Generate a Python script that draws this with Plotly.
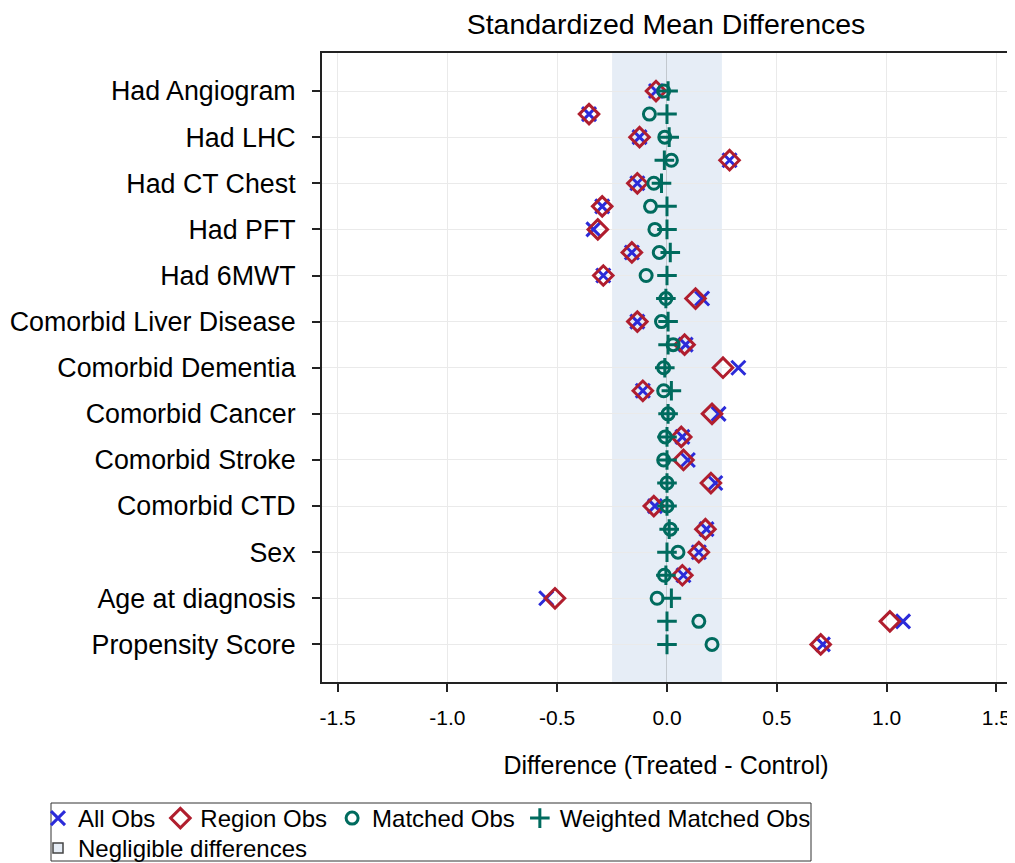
import plotly.graph_objects as go

# ---- data ----
row_labels = [
    "Had Angiogram", None, "Had LHC", None, "Had CT Chest", None, "Had PFT", None,
    "Had 6MWT", None, "Comorbid Liver Disease", None, "Comorbid Dementia", None,
    "Comorbid Cancer", None, "Comorbid Stroke", None, "Comorbid CTD", None,
    "Sex", None, "Age at diagnosis", None, "Propensity Score",
]
all_obs = [-0.05, -0.355, -0.125, 0.285, -0.135, -0.295, -0.335, -0.16, -0.29, 0.16,
           -0.135, 0.085, 0.325, -0.11, 0.235, 0.07, 0.095, 0.22, -0.055, 0.18,
           0.145, 0.075, -0.55, 1.075, 0.71]
region_obs = [-0.05, -0.355, -0.125, 0.285, -0.135, -0.295, -0.315, -0.16, -0.29, 0.13,
              -0.135, 0.08, 0.255, -0.11, 0.205, 0.065, 0.075, 0.2, -0.06, 0.175,
              0.145, 0.07, -0.51, 1.015, 0.70]
matched_obs = [-0.015, -0.08, -0.01, 0.02, -0.06, -0.075, -0.055, -0.035, -0.095, -0.005,
               -0.025, 0.028, -0.015, -0.015, 0.005, -0.008, -0.015, 0.0, 0.0, 0.015,
               0.05, -0.012, -0.045, 0.145, 0.205]
weighted_obs = [0.005, 0.0, 0.01, -0.012, -0.025, 0.0, 0.0, 0.015, 0.0, -0.005,
                0.005, 0.005, -0.01, 0.02, 0.005, 0.0, 0.0, 0.0, 0.0, 0.01,
                0.0, -0.005, 0.02, 0.0, 0.0]
threshold = 0.25
x_ticks = [-1.5, -1.0, -0.5, 0.0, 0.5, 1.0, 1.5]

rows = list(range(len(row_labels)))
tickvals = [i for i, l in enumerate(row_labels) if l]
ticktext = [l for l in row_labels if l]

BLUE = "#2B2BD9"
RED = "#B01E2E"
TEAL = "#006B5E"
BAND = "#E6EDF6"
FONT = "Liberation Sans, Arial, sans-serif"

# page body has an 8px margin, so figure coords = screen coords - 8
OFF = 8
W, H = 1007, 855
ML, MR, MT, MB = 314, 5, 45, 181
PW, PH = W - ML - MR, H - MT - MB


def px_x(p):
    return (p - OFF - ML) / PW


def px_y(p):
    return (H - MB - (p - OFF)) / PH


fig = go.Figure()
fig.add_shape(type="rect", xref="x", yref="paper", x0=-threshold, x1=threshold,
              y0=0, y1=1, fillcolor=BAND, line_width=0, layer="below")
# legend frame
fig.add_shape(type="rect", xref="paper", yref="paper",
              x0=px_x(51), x1=px_x(811), y0=px_y(861), y1=px_y(803),
              line=dict(color="#333333", width=1), fillcolor="rgba(0,0,0,0)")

fig.add_trace(go.Scatter(x=all_obs, y=rows, mode="markers", name="All Obs",
                         marker=dict(symbol="x-thin", size=14,
                                     line=dict(color=BLUE, width=3), color=BLUE)))
fig.add_trace(go.Scatter(x=region_obs, y=rows, mode="markers", name="Region Obs",
                         marker=dict(symbol="diamond-open", size=15,
                                     line=dict(color=RED, width=3), color=RED)))
fig.add_trace(go.Scatter(x=matched_obs, y=rows, mode="markers", name="Matched Obs",
                         marker=dict(symbol="circle-open", size=12,
                                     line=dict(color=TEAL, width=3), color=TEAL)))
fig.add_trace(go.Scatter(x=weighted_obs, y=rows, mode="markers", name="Weighted Matched Obs",
                         marker=dict(symbol="cross-thin", size=14,
                                     line=dict(color=TEAL, width=3), color=TEAL)))
fig.add_trace(go.Scatter(x=[None], y=[None], mode="markers", name="Negligible differences",
                         legend="legend2",
                         marker=dict(symbol="square", size=10, color=BAND,
                                     line=dict(color="#444444", width=1.5))))

legend_common = dict(orientation="h", xanchor="left", yanchor="top",
                     borderwidth=0, bgcolor="rgba(0,0,0,0)",
                     font=dict(size=24), itemwidth=30)

fig.update_layout(
    width=W, height=H,
    margin=dict(l=ML, r=MR, t=MT, b=MB, autoexpand=False),
    plot_bgcolor="white", paper_bgcolor="white",
    font=dict(family=FONT, color="black"),
    title=dict(text="Standardized Mean Differences", x=0.5, xref="paper",
               yref="container", y=1 - (24 - OFF) / H, yanchor="middle",
               font=dict(size=28.5)),
    showlegend=True,
    legend=dict(x=px_x(38), y=px_y(796), **legend_common),
    legend2=dict(x=px_x(38), y=px_y(826), **legend_common),
)
fig.update_xaxes(range=[-1.571, 1.562], tickvals=x_ticks,
                 ticktext=[f"{v:.1f}" for v in x_ticks], automargin=False,
                 showgrid=True, gridcolor="#EAEAEA", gridwidth=1,
                 zeroline=True, zerolinecolor="#C2C8CE", zerolinewidth=1,
                 showline=True, linecolor="#222222", linewidth=2, mirror=True,
                 ticks="outside", ticklen=8, tickwidth=2, tickcolor="#222222",
                 tickfont=dict(size=21), ticklabelstandoff=8,
                 title=dict(text="Difference (Treated - Control)", font=dict(size=25),
                            standoff=28))
fig.update_yaxes(range=[25.63, -1.65], tickvals=tickvals, ticktext=ticktext,
                 automargin=False,
                 showgrid=True, gridcolor="#EAEAEA", gridwidth=1, zeroline=False,
                 showline=True, linecolor="#222222", linewidth=2, mirror=True,
                 ticks="outside", ticklen=8, tickwidth=2, tickcolor="#222222",
                 tickfont=dict(size=26.8), ticklabelstandoff=11)

fig.write_html("out.html")
